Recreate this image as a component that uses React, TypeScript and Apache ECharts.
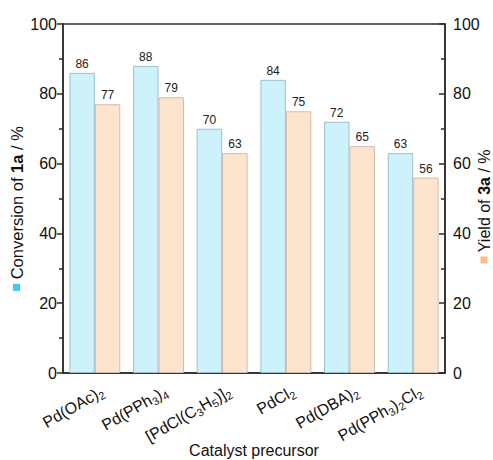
import React, { useEffect, useRef } from "react";
import * as echarts from "echarts";

// Catalyst precursors; "_n" marks a subscript digit
const catalysts = [
  "Pd(OAc)_2",
  "Pd(PPh_3)_4",
  "[PdCl(C_3H_5)]_2",
  "PdCl_2",
  "Pd(DBA)_2",
  "Pd(PPh_3)_2Cl_2",
];
const conversion = [86, 88, 70, 84, 72, 63];
const yieldValues = [77, 79, 63, 75, 65, 56];
const yTicks = [0, 20, 40, 60, 80, 100];

const FONT = "Liberation Sans, Arial, sans-serif";
const AXIS_COLOR = "#2b2b2b";

function toRich(label: string): string {
  const parts = label.split(/_(\d)/);
  return parts
    .map((p, i) => (i % 2 ? `{s|${p}}` : p ? `{n|${p}}` : ""))
    .join("");
}

export default function App() {
  const ref = useRef<HTMLDivElement>(null);

  useEffect(() => {
    if (!ref.current) return;
    const chart = echarts.init(ref.current, undefined, { renderer: "svg" });

    const yAxisBase = {
      type: "value" as const,
      min: yTicks[0],
      max: yTicks[yTicks.length - 1],
      interval: 20,
      nameLocation: "middle" as const,
      nameRotate: 90,
      nameMoveOverlap: false,
      axisLine: { show: true, lineStyle: { color: AXIS_COLOR, width: 1.5 } },
      axisTick: { show: true, length: 6, lineStyle: { color: AXIS_COLOR, width: 1.5 } },
      minorTick: { show: true, splitNumber: 2, length: 4, lineStyle: { color: AXIS_COLOR, width: 1.5 } },
      splitLine: { show: false },
      axisLabel: { fontFamily: FONT, fontSize: 16, color: "#111", margin: 6 },
    };

    chart.setOption({
      animation: false,
      textStyle: { fontFamily: FONT },
      grid: {
        left: 63,
        right: 48,
        top: 24,
        bottom: 87,
        show: true,
        borderColor: AXIS_COLOR,
        borderWidth: 1.5,
        containLabel: false,
        outerBoundsMode: "none",
      },
      xAxis: {
        type: "category",
        data: catalysts,
        name: "Catalyst precursor",
        nameLocation: "middle",
        nameGap: 69,
        nameMoveOverlap: false,
        nameTextStyle: { fontFamily: FONT, fontSize: 16, color: "#111" },
        axisLine: { lineStyle: { color: AXIS_COLOR, width: 1.5 } },
        axisTick: { alignWithLabel: true, length: 6, lineStyle: { color: AXIS_COLOR, width: 1.5 } },
        axisLabel: {
          rotate: 30,
          interval: 0,
          margin: 4,
          padding: [30, 0, 0, 0],
          color: "#111",
          formatter: (v: string) => toRich(v),
          rich: {
            n: { fontFamily: FONT, fontSize: 16, color: "#111", lineHeight: 20, verticalAlign: "middle" },
            s: { fontFamily: FONT, fontSize: 11, color: "#111", lineHeight: 11, verticalAlign: "bottom" },
          },
        },
      },
      yAxis: [
        {
          ...yAxisBase,
          position: "left",
          name: "{sq| }{t| Conversion of }{b|1a}{t| / %}",
          nameGap: 38,
          nameTextStyle: {
            padding: [0, 20, 0, 0],
            rich: {
              sq: { width: 7, height: 7, backgroundColor: "#3ec9f5" },
              t: { fontFamily: FONT, fontSize: 16.5, color: "#111" },
              b: { fontFamily: FONT, fontSize: 16.5, color: "#111", fontWeight: "bold" },
            },
          },
          axisTick: { ...yAxisBase.axisTick, inside: false },
        },
        {
          ...yAxisBase,
          position: "right",
          name: "{sq| }{t| Yield of }{b|3a}{t| / %}",
          nameGap: 31,
          nameTextStyle: {
            padding: [0, 16, 0, 0],
            rich: {
              sq: { width: 7, height: 7, backgroundColor: "#fbbd85" },
              t: { fontFamily: FONT, fontSize: 16, color: "#111" },
              b: { fontFamily: FONT, fontSize: 16, color: "#111", fontWeight: "bold" },
            },
          },
          axisTick: { ...yAxisBase.axisTick, inside: true },
          axisLabel: { ...yAxisBase.axisLabel, margin: 8 },
        },
      ],
      series: [
        {
          type: "bar",
          name: "Conversion",
          yAxisIndex: 0,
          data: conversion,
          barGap: "0%",
          barCategoryGap: "20%",
          itemStyle: { color: "#cdf2fb", borderColor: "#9cc0ca", borderWidth: 1 },
          label: { show: true, position: "top", distance: 3, fontFamily: FONT, fontSize: 12, color: "#222" },
        },
        {
          type: "bar",
          name: "Yield",
          yAxisIndex: 1,
          data: yieldValues,
          barGap: "0%",
          barCategoryGap: "20%",
          itemStyle: { color: "#fde4cf", borderColor: "#d4bba9", borderWidth: 1 },
          label: { show: true, position: "top", distance: 3, fontFamily: FONT, fontSize: 12, color: "#222" },
        },
      ],
    });

    return () => chart.dispose();
  }, []);

  return <div ref={ref} style={{ width: 493, height: 460, position: "absolute", left: 0, top: 0 }} />;
}
